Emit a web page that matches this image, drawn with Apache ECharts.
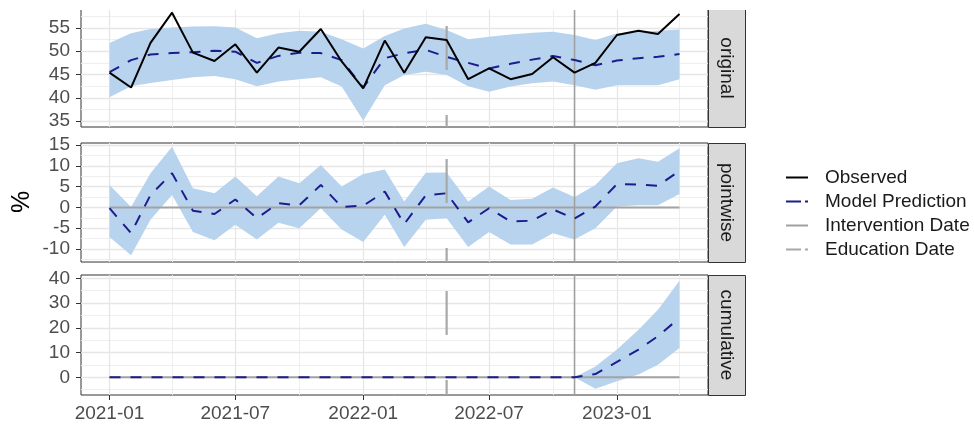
<!DOCTYPE html>
<html>
<head>
<meta charset="utf-8">
<script src="https://cdn.jsdelivr.net/npm/echarts@6/dist/echarts.min.js"></script>
<style>
  html, body { margin: 0; padding: 0; background: #ffffff; }
  #chart { width: 974px; height: 425px; }
</style>
</head>
<body>
<div id="chart"></div>
<script>
// Monthly observations, Jan 2021 – Apr 2023
const months = [
  '2021-01','2021-02','2021-03','2021-04','2021-05','2021-06','2021-07','2021-08','2021-09','2021-10','2021-11','2021-12',
  '2022-01','2022-02','2022-03','2022-04','2022-05','2022-06','2022-07','2022-08','2022-09','2022-10','2022-11','2022-12',
  '2023-01','2023-02','2023-03','2023-04'
];

// Panel "original": observed rate, model prediction and its interval
const observed  = [45.4, 42.2, 51.8, 58.3, 49.7, 47.9, 51.5, 45.4, 50.8, 49.9, 54.8, 47.8, 42.0, 52.3,
                   45.4, 53.0, 52.4, 44.0, 46.3, 44.0, 45.1, 48.7, 45.4, 47.5, 53.5, 54.4, 53.7, 58.0];
const predicted = [45.5, 48.1, 49.3, 49.6, 49.8, 50.1, 49.9, 47.5, 49.0, 49.7, 49.6, 48.1, 42.2, 48.5,
                   49.6, 50.3, 48.8, 47.5, 46.3, 47.3, 48.2, 49.0, 48.1, 47.0, 48.0, 48.5, 48.8, 49.4];
const predLower = [40.1, 42.5, 43.2, 43.8, 44.4, 44.7, 44.0, 42.5, 43.5, 44.0, 44.4, 42.4, 35.1, 42.7,
                   44.9, 45.6, 44.9, 42.5, 41.3, 42.4, 43.1, 43.5, 42.7, 41.7, 42.7, 42.7, 42.7, 44.0];
const predUpper = [51.8, 53.9, 54.8, 55.1, 55.3, 55.4, 55.1, 52.8, 53.9, 54.4, 54.2, 52.6, 50.6, 53.3,
                   54.9, 55.9, 54.6, 52.6, 53.1, 53.6, 54.0, 54.2, 53.5, 52.4, 53.9, 54.2, 54.4, 54.7];

// Panel "pointwise": observed minus predicted, with interval
const pointwise  = [-0.2, -6.2, 3.0, 8.2, -0.8, -1.6, 1.9, -2.6, 1.0, 0.5, 5.4, 0.1, 0.4, 3.8,
                    -4.0, 2.9, 3.4, -3.6, -0.2, -3.4, -3.2, -0.5, -2.7, 0.2, 5.6, 5.5, 5.2, 8.8];
const pointLower = [-7.1, -11.5, -3.0, 3.0, -5.9, -7.9, -4.2, -7.7, -3.7, -5.0, -0.2, -5.3, -8.3, -1.8,
                    -9.5, -3.0, -2.6, -9.5, -5.9, -8.9, -8.9, -6.2, -7.7, -5.0, 0.2, 0.5, 0.5, 3.2];
const pointUpper = [5.4, 0.1, 8.2, 14.6, 4.6, 3.4, 7.4, 2.7, 7.4, 5.8, 10.2, 5.0, 8.0, 9.1,
                    1.4, 8.3, 8.4, 1.4, 5.0, 1.8, 2.1, 4.8, 2.5, 5.4, 10.6, 11.8, 11.0, 14.2];

// Panel "cumulative": running effect after the intervention
const cumulative = [0, 0, 0, 0, 0, 0, 0, 0, 0, 0, 0, 0, 0, 0, 0, 0, 0, 0, 0, 0, 0, 0, 0, 1.3, 6.2, 11.2, 16.6, 24.0];
const cumLower   = [0, 0, 0, 0, 0, 0, 0, 0, 0, 0, 0, 0, 0, 0, 0, 0, 0, 0, 0, 0, 0, 0, 0, -4.6, -1.6, 1.1, 5.1, 11.8];
const cumUpper   = [0, 0, 0, 0, 0, 0, 0, 0, 0, 0, 0, 0, 0, 0, 0, 0, 0, 0, 0, 0, 0, 0, 0, 4.4, 11.2, 19.2, 27.3, 39.0];

// Event dates
const interventionDate = '2022-11';
const educationDate = '2022-05';

// Axis breaks
const xBreaks = ['2021-01', '2021-07', '2022-01', '2022-07', '2023-01'];
const xMinorBreaks = ['2021-04', '2021-10', '2022-04', '2022-10', '2023-04'];
const xLimits = ['2020-11-21', '2023-05-12'];

const panelNames = ['original', 'pointwise', 'cumulative'];
const yBreaks = [[35, 40, 45, 50, 55], [-10, -5, 0, 5, 10, 15], [0, 10, 20, 30, 40]];
const yMinorBreaks = [[37.5, 42.5, 47.5, 52.5, 57.5], [-12.5, -7.5, -2.5, 2.5, 7.5, 12.5], [-5, 5, 15, 25, 35]];
const yLimits = [[33.71, 59.09], [-13.13, 15.48], [-7.15, 41.33]];

const legendNames = ['Observed', 'Model Prediction', 'Intervention Date', 'Education Date'];

// ---- styling / layout ----
const FONT = 'Liberation Sans, Arial, Helvetica, sans-serif';
const BAND = '#b8d3ee';
const PRED = '#1c1c8c';
const GRID_MAJOR = '#e6e6e6';
const GRID_MINOR = '#eeeeee';
const BORDER = '#333333';
const panels = [
  { top: 9, height: 118 },
  { top: 143, height: 119 },
  { top: 275, height: 120 }
];
const PLOT_LEFT = 81, PLOT_RIGHT = 708;
const STRIP_W = 37;

const ts = s => +echarts.time.parse(s);
const seriesPairs = (vals) => months.map((m, i) => [m, vals[i]]);

const chart = echarts.init(document.getElementById('chart'), null, { renderer: 'canvas' });

const grids = [], xAxes = [], yAxes = [], series = [], graphics = [];

panels.forEach((p, k) => {
  grids.push({
    left: PLOT_LEFT, width: PLOT_RIGHT - PLOT_LEFT, top: p.top, height: p.height,
    show: true, borderColor: BORDER, borderWidth: 1, backgroundColor: 'transparent',
    containLabel: false
  });
  const isBottom = k === panels.length - 1;
  xAxes.push({
    type: 'time', gridIndex: k, position: 'bottom', min: ts(xLimits[0]), max: ts(xLimits[1]),
    axisLine: { show: false, onZero: false },
    splitLine: { show: false },
    axisTick: { show: isBottom, customValues: xBreaks.map(ts), length: 5, lineStyle: { color: BORDER, width: 1 } },
    axisLabel: {
      show: isBottom, customValues: xBreaks.map(ts), formatter: '{yyyy}-{MM}',
      color: '#4d4d4d', fontSize: 19, fontFamily: FONT, margin: 9
    }
  });
  yAxes.push({
    type: 'value', gridIndex: k, min: yLimits[k][0], max: yLimits[k][1],
    axisLine: { show: false, onZero: false },
    splitLine: { show: false },
    axisTick: { show: true, customValues: yBreaks[k], length: 5, lineStyle: { color: BORDER, width: 1 } },
    axisLabel: { customValues: yBreaks[k], color: '#4d4d4d', fontSize: 19, fontFamily: FONT, margin: 11 }
  });

  // background grid lines (kept underneath every mark)
  const gl = [];
  yMinorBreaks[k].forEach(v => gl.push({ yAxis: v, lineStyle: { color: GRID_MINOR, width: 1, type: 'solid' } }));
  xMinorBreaks.forEach(m => gl.push({ xAxis: ts(m), lineStyle: { color: GRID_MINOR, width: 1, type: 'solid' } }));
  yBreaks[k].forEach(v => gl.push({ yAxis: v, lineStyle: { color: GRID_MAJOR, width: 1.3, type: 'solid' } }));
  xBreaks.forEach(m => gl.push({ xAxis: ts(m), lineStyle: { color: GRID_MAJOR, width: 1.3, type: 'solid' } }));
  series.push({
    type: 'line', xAxisIndex: k, yAxisIndex: k, data: [], z: 0, silent: true,
    markLine: { z: 0, silent: true, symbol: ['none', 'none'], label: { show: false }, animation: false, data: gl }
  });

  // interval band
  const lower = [predLower, pointLower, cumLower][k];
  const upper = [predUpper, pointUpper, cumUpper][k];
  series.push({
    type: 'custom', xAxisIndex: k, yAxisIndex: k, z: 1, silent: true,
    data: [[months[0], lower[0]]],
    renderItem: function (params, api) {
      const hi = months.map((m, i) => api.coord([ts(m), upper[i]]));
      const lo = months.map((m, i) => api.coord([ts(m), lower[i]])).reverse();
      return { type: 'polygon', shape: { points: hi.concat(lo) }, style: { fill: BAND } };
    }
  });

  // zero reference for effect panels
  if (k > 0) {
    series.push({
      type: 'line', xAxisIndex: k, yAxisIndex: k, z: 2, silent: true, symbol: 'none',
      data: [[months[0], 0], [months[months.length - 1], 0]],
      lineStyle: { color: '#a3a3a3', width: 2 }
    });
  }

  // event markers
  series.push({
    name: 'Intervention Date', type: 'line', xAxisIndex: k, yAxisIndex: k, z: 2, silent: true, symbol: 'none',
    data: [[interventionDate, yLimits[k][1]], [interventionDate, yLimits[k][0]]],
    itemStyle: { color: '#a0a0a0' },
    lineStyle: { color: '#a0a0a0', width: 1.6 }
  });
  series.push({
    name: 'Education Date', type: 'line', xAxisIndex: k, yAxisIndex: k, z: 2, silent: true, symbol: 'none',
    data: [[educationDate, yLimits[k][1]], [educationDate, yLimits[k][0]]],
    itemStyle: { color: '#a8a8a8' },
    lineStyle: { color: '#a8a8a8', width: 2.2, type: [44, 45], dashOffset: k === 0 ? 72 : 73 }
  });

  // model estimate
  const est = [predicted, pointwise, cumulative][k];
  series.push({
    name: 'Model Prediction', type: 'line', xAxisIndex: k, yAxisIndex: k, z: 3, silent: true, symbol: 'none',
    data: seriesPairs(est),
    itemStyle: { color: PRED },
    lineStyle: { color: PRED, width: 2, type: [11, 10] }
  });

  if (k === 0) {
    series.push({
      name: 'Observed', type: 'line', xAxisIndex: k, yAxisIndex: k, z: 4, silent: true, symbol: 'none',
      data: seriesPairs(observed),
      itemStyle: { color: '#000000' },
      lineStyle: { color: '#000000', width: 2 }
    });
  }

  // facet strip on the right
  graphics.push({
    type: 'rect', left: PLOT_RIGHT, top: p.top, z: 10,
    shape: { x: 0, y: 0, width: STRIP_W, height: p.height },
    style: { fill: '#d9d9d9', stroke: BORDER, lineWidth: 1 }
  });
  graphics.push({
    type: 'text', z: 11,
    x: PLOT_RIGHT + STRIP_W / 2, y: p.top + p.height / 2, rotation: -Math.PI / 2,
    style: { text: panelNames[k], fill: '#1a1a1a', font: '19px ' + FONT, align: 'center', verticalAlign: 'middle' }
  });
});

// the figure is trimmed just below the upper panel's top edge
graphics.push({
  type: 'rect', left: 0, top: 0, z: 20,
  shape: { x: 0, y: 0, width: 974, height: panels[0].top + 1 },
  style: { fill: '#ffffff' }
});

// y-axis title
graphics.push({
  type: 'text', z: 11, x: 22, y: 202, rotation: Math.PI / 2,
  style: { text: '%', fill: '#000000', font: '25px ' + FONT, align: 'center', verticalAlign: 'middle' }
});

chart.setOption({
  animation: false,
  grid: grids,
  xAxis: xAxes,
  yAxis: yAxes,
  series: series,
  graphic: graphics,
  legend: {
    data: [
      { name: legendNames[0] },
      { name: legendNames[1], lineStyle: { type: [15, 4], dashOffset: 0 } },
      { name: legendNames[2] },
      { name: legendNames[3], lineStyle: { type: [15, 4], dashOffset: 0 } }
    ],
    orient: 'vertical', left: 780, top: 163,
    itemWidth: 22, itemHeight: 14, itemGap: 5, selectedMode: false,
    itemStyle: { opacity: 0 },
    textStyle: { fontSize: 19, color: '#1a1a1a', fontFamily: FONT, padding: [0, 0, 0, 12] }
  }
});
</script>
</body>
</html>
